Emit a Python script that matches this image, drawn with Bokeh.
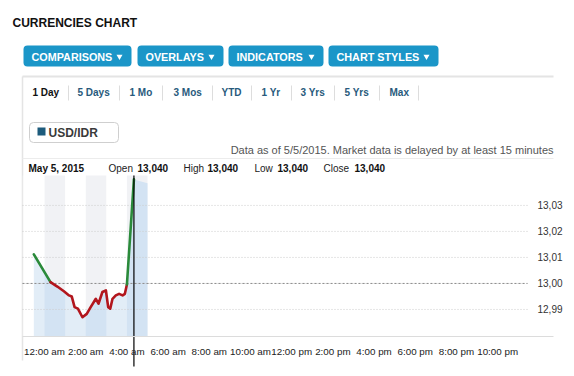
from bokeh.plotting import figure
from bokeh.models import Range1d, LinearAxis, FixedTicker, CustomJSTickFormatter
from bokeh.core.properties import value
from bokeh.embed import file_html
from bokeh.resources import INLINE

# ---------------- data ----------------
price_hours = [-0.52, 0.29, 0.62, 0.94, 1.19, 1.32, 1.46, 1.62, 1.84, 2.05, 2.24, 2.49,
               2.62, 2.81, 2.98, 3.09, 3.19, 3.30, 3.46, 3.62, 3.79, 3.90, 4.00, 4.34, 5.00]
price_values = [13.0112, 13.0005, 12.9988, 12.9970, 12.9954, 12.9950, 12.9909, 12.9903,
                12.9870, 12.9883, 12.9909, 12.9941, 12.9922, 12.9967, 12.9973, 12.9909,
                12.9903, 12.9941, 12.9954, 12.9960, 12.9954, 12.9960, 12.9996, 13.0400, 13.0385]
crosshair_hour = 4.34
prev_close = 13.00
shade_hours = [0, 2, 4]
x_tick_hours = [0, 2, 4, 6, 8, 10, 12, 14, 16, 18, 20, 22]
x_tick_labels = ["12:00 am", "2:00 am", "4:00 am", "6:00 am", "8:00 am", "10:00 am",
                 "12:00 pm", "2:00 pm", "4:00 pm", "6:00 pm", "8:00 pm", "10:00 pm"]
y_ticks = [12.99, 13.00, 13.01, 13.02, 13.03]
y_tick_labels = ["12,99", "13,00", "13,01", "13,02", "13,03"]

page_title = "CURRENCIES CHART"
button_labels = ["COMPARISONS", "OVERLAYS", "INDICATORS", "CHART STYLES"]
range_tabs = ["1 Day", "5 Days", "1 Mo", "3 Mos", "YTD", "1 Yr", "3 Yrs", "5 Yrs", "Max"]
symbol = "USD/IDR"
note = "Data as of 5/5/2015. Market data is delayed by at least 15 minutes"
quote_date = "May 5, 2015"
ohlc_names = ["Open", "High", "Low", "Close"]
ohlc_values = ["13,040", "13,040", "13,040", "13,040"]

# ---------------- styles / layout ----------------
FONT_NAME = "Liberation Sans"
FONT = value(FONT_NAME)
W, H = 566, 368            # figure size (page pixel space)
BLUE = "#1b96c8"
TAB = "#285a7c"
GREEN = "#2a8a3a"
RED = "#b2161d"

# chart plot-area placement (page px) and its value ranges
PL, PR, PT, PAX = 22, 527, 175, 336          # left, right, top, x-axis line
x_start, x_end = -1.07, 23.45                # hours at PL / PR
y_top, axis_base = 13.0415, 12.9796          # price at PT / PAX
hpp = (x_end - x_start) / (PR - PL)
vpp = (y_top - axis_base) / (PAX - PT)
hours_range = Range1d(x_start - PL * hpp, x_start + (W - PL) * hpp)
price_range = Range1d(axis_base - (H - PAX) * vpp, y_top + PT * vpp)
cross_bottom = axis_base - (366 - PAX) * vpp
axis_right = x_start + (553 - PL) * hpp

p = figure(width=W, height=H, x_range=Range1d(0, W), y_range=Range1d(H, 0),
           x_axis_location=None, y_axis_location=None, toolbar_location=None,
           output_backend="svg", min_border=0, outline_line_color=None, title=None)
p.grid.visible = False
p.extra_x_ranges = {"hours": hours_range}
p.extra_y_ranges = {"price": price_range}
C = dict(x_range_name="hours", y_range_name="price")

# ---------------- header ----------------
p.text(x=[12], y=[22], text=[page_title], text_font=FONT, text_font_style="bold",
       text_font_size="12px", text_baseline="middle", text_color="#111111")

btn_left = [23, 137, 228, 328]
btn_right = [131, 223, 323, 438]
p.quad(left=btn_left, right=btn_right, top=[45] * 4, bottom=[66] * 4,
       fill_color=BLUE, line_color=None, border_radius=4)
p.text(x=[l + 8 for l in btn_left], y=[56] * 4, text=button_labels, text_font=FONT,
       text_font_style="bold", text_font_size="10.8px", text_baseline="middle",
       text_color="white")
p.scatter(x=[r - 12 for r in btn_right], y=[56] * 4, marker="inverted_triangle", size=6,
          fill_color="white", line_color=None)

p.segment(x0=[22], y0=[76], x1=[553], y1=[76], line_color="#e4e4e4", line_width=2)
p.segment(x0=[22], y0=[76], x1=[22], y1=[360], line_color="#e4e4e4", line_width=1.5)
p.segment(x0=[22], y0=[158], x1=[553], y1=[158], line_color="#ececec", line_width=1)

tab_x = [32, 77, 129, 173, 221, 261, 300, 344, 389]
sep_x = [68, 119, 162, 212, 251, 291, 334, 379, 418]
p.text(x=tab_x, y=[92] * len(tab_x), text=range_tabs, text_font=FONT, text_font_style="bold",
       text_font_size="10px", text_baseline="middle",
       text_color=["#111111"] + [TAB] * (len(range_tabs) - 1))
p.segment(x0=sep_x, y0=[85] * len(sep_x), x1=sep_x, y1=[100] * len(sep_x),
          line_color="#dddddd", line_width=1)

p.quad(left=[29], right=[118], top=[122], bottom=[142], fill_color="white",
       line_color="#cfcfcf", line_width=1, border_radius=4)
p.quad(left=[37], right=[45], top=[127], bottom=[135], fill_color="#1d5b7c", line_color=None)
p.text(x=[48], y=[132], text=[symbol], text_font=FONT, text_font_style="bold",
       text_font_size="12px", text_baseline="middle", text_color="#3a3a3a")

p.text(x=[553], y=[149], text=[note], text_font=FONT, text_font_size="11px",
       text_baseline="middle", text_align="right", text_color="#555555")

p.text(x=[28], y=[167.5], text=[quote_date], text_font=FONT, text_font_style="bold",
       text_font_size="10px", text_baseline="middle", text_color="#111111")
p.text(x=[108, 183, 254, 323], y=[167.5] * 4, text=ohlc_names, text_font=FONT,
       text_font_size="10px", text_baseline="middle", text_color="#222222")
p.text(x=[137, 207, 277, 354], y=[167.5] * 4, text=ohlc_values, text_font=FONT,
       text_font_style="bold", text_font_size="10px", text_baseline="middle",
       text_color="#111111")

# ---------------- chart ----------------
def fmt(vals, labels):
    return CustomJSTickFormatter(args=dict(tick_vals=vals, tick_labels=labels), code="""
        for (let i = 0; i < tick_vals.length; i++) {
            if (Math.abs(tick_vals[i] - tick) < 1e-9) return tick_labels[i];
        }
        return '';
    """)


# shaded hour bands, area under price, lighter area outside bands
p.quad(left=shade_hours, right=[h + 1 for h in shade_hours], bottom=axis_base, top=y_top,
       fill_color="#f1f2f5", line_color=None, **C)
p.varea(x=price_hours, y1=axis_base, y2=price_values, fill_color="#d3e3f3", **C)
gap_left = [x_start] + [h + 1 for h in shade_hours[:-1]]
p.quad(left=gap_left, right=shade_hours, bottom=axis_base, top=y_top,
       fill_color="white", fill_alpha=0.35, line_color=None, **C)

# grid lines and previous close reference
p.segment(x0=[x_start] * len(y_ticks), x1=[x_end] * len(y_ticks), y0=y_ticks, y1=y_ticks,
          line_color="#cccccc", line_dash="1 2", line_width=1, **C)
p.segment(x0=[x_start], x1=[x_end], y0=[prev_close], y1=[prev_close],
          line_color="#8c8c8c", line_dash="2 2", line_width=1, **C)

# price line up to crosshair, coloured by side of previous close
n = price_hours.index(crosshair_hour) + 1
runs_x, runs_y, runs_c = [], [], []
for i in range(n - 1):
    c = GREEN if (price_values[i] + price_values[i + 1]) / 2 >= prev_close else RED
    if runs_c and runs_c[-1] == c:
        runs_x[-1].append(price_hours[i + 1])
        runs_y[-1].append(price_values[i + 1])
    else:
        runs_x.append([price_hours[i], price_hours[i + 1]])
        runs_y.append([price_values[i], price_values[i + 1]])
        runs_c.append(c)
p.multi_line(xs=runs_x, ys=runs_y, line_color=runs_c, line_width=2.6,
             line_join="round", line_cap="round", **C)

p.segment(x0=[crosshair_hour], x1=[crosshair_hour], y0=[y_top], y1=[cross_bottom],
          line_color="black", line_width=1.2, **C)

# axes
yax = LinearAxis(fixed_location=x_end, ticker=FixedTicker(ticks=y_ticks),
                 formatter=fmt(y_ticks, y_tick_labels),
                 axis_line_color=None, major_tick_line_color=None, minor_tick_line_color=None,
                 major_label_standoff=4, major_label_text_font=FONT_NAME,
                 major_label_text_font_size="10px", major_label_text_color="#333333", **C)
p.add_layout(yax, "right")

xax = LinearAxis(fixed_location=axis_base, ticker=FixedTicker(ticks=x_tick_hours),
                 formatter=fmt(x_tick_hours, x_tick_labels), bounds=(x_start, axis_right),
                 axis_line_color="#dcdcdc", major_tick_line_color=None,
                 minor_tick_line_color=None, major_label_standoff=3,
                 major_label_text_font=FONT_NAME, major_label_text_font_size="9.8px",
                 major_label_text_color="#222222", **C)
p.add_layout(xax, "below")

open("out.html", "w").write(file_html(p, INLINE))
